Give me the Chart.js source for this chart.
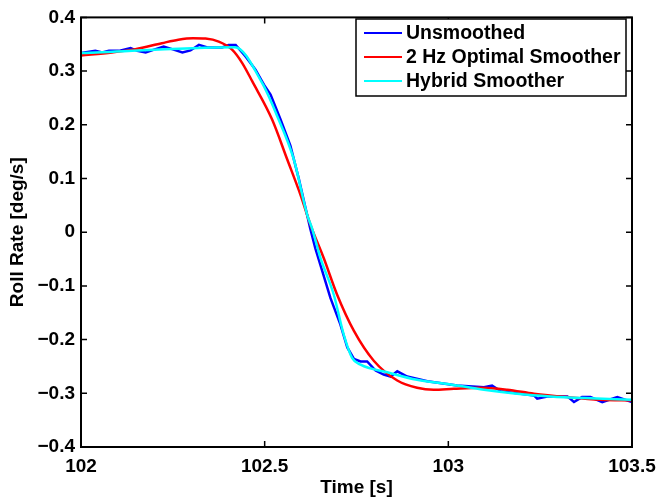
<!DOCTYPE html>
<html>
<head>
<meta charset="utf-8">
<title>Roll Rate</title>
<script src="https://cdn.jsdelivr.net/npm/chart.js"></script>
<style>
  html, body { margin: 0; padding: 0; background: #ffffff; }
  #wrap { width: 670px; height: 499px; }
</style>
</head>
<body>
<div id="wrap"><canvas id="rollChart" width="670" height="499"></canvas></div>
<script>
// series: time [s] and roll rate [deg/s]
const unsmoothedT = [102.000, 102.039, 102.058, 102.076, 102.103, 102.135, 102.153, 102.176, 102.203, 102.225,
  102.248, 102.276, 102.298, 102.321, 102.344, 102.384, 102.402, 102.421, 102.448, 102.475, 102.498, 102.516,
  102.543, 102.570, 102.593, 102.624, 102.638, 102.679, 102.706, 102.725, 102.743, 102.761, 102.779, 102.802,
  102.824, 102.843, 102.861, 102.888, 102.943, 103.024, 103.097, 103.119, 103.142, 103.233, 103.242, 103.269,
  103.324, 103.342, 103.364, 103.387, 103.419, 103.460, 103.500];
const unsmoothedV = [0.3335, 0.3377, 0.3348, 0.3377, 0.3377, 0.3427, 0.3377, 0.3348, 0.3409, 0.3459,
  0.3409, 0.3348, 0.3385, 0.3488, 0.3440, 0.3440, 0.3488, 0.3488, 0.3274, 0.3026, 0.2749, 0.2564,
  0.2103, 0.1611, 0.0994, 0.0070, -0.0300, -0.1223, -0.1715, -0.2147, -0.2361, -0.2406, -0.2406, -0.2577,
  -0.2651, -0.2688, -0.2590, -0.2688, -0.2775, -0.2855, -0.2886, -0.2855, -0.2960, -0.3039, -0.3100, -0.3058,
  -0.3058, -0.3163, -0.3071, -0.3071, -0.3163, -0.3071, -0.3163];

const optimalT = [102.000, 102.084, 102.148, 102.220, 102.265, 102.305, 102.339, 102.375, 102.412, 102.439,
  102.466, 102.520, 102.561, 102.598, 102.625, 102.661, 102.697, 102.743, 102.797, 102.861, 102.915,
  102.960, 103.015, 103.088, 103.160, 103.233, 103.324, 103.414, 103.500];
const optimalV = [0.3290, 0.3348, 0.3409, 0.3520, 0.3585, 0.3612, 0.3605, 0.3550, 0.3396, 0.3150,
  0.2812, 0.2103, 0.1363, 0.0687, 0.0133, -0.0484, -0.1160, -0.1838, -0.2393, -0.2762, -0.2897,
  -0.2934, -0.2915, -0.2897, -0.2934, -0.3008, -0.3071, -0.3119, -0.3132];

const hybridT = [102.000, 102.419, 102.493, 102.534, 102.579, 102.616, 102.629, 102.652, 102.688, 102.715,
  102.738, 102.761, 102.834, 102.915, 103.006, 103.097, 103.187, 103.278, 103.369, 103.500];
const hybridV = [0.3335, 0.3446, 0.2780, 0.2165, 0.1364, 0.0318, 0.0071, -0.0483, -0.1160, -0.1900,
  -0.2340, -0.2467, -0.2609, -0.2749, -0.2836, -0.2934, -0.3008, -0.3058, -0.3089, -0.3119];

const seriesNames = ['Unsmoothed', '2 Hz Optimal Smoother', 'Hybrid Smoother'];
const xTicks = [102, 102.5, 103, 103.5];
const xTickLabels = ['102', '102.5', '103', '103.5'];
const yTicks = [-0.4, -0.3, -0.2, -0.1, 0, 0.1, 0.2, 0.3, 0.4];
const yTickLabels = ['\u22120.4', '\u22120.3', '\u22120.2', '\u22120.1', '0', '0.1', '0.2', '0.3', '0.4'];

const FONT = '"Liberation Sans", Arial, Helvetica, sans-serif';

function pts(ts, vs) {
  return ts.map((t, i) => ({ x: t, y: vs[i] }));
}

// MATLAB style box with inward ticks on all four sides
const boxPlugin = {
  id: 'matlabBox',
  afterDatasetsDraw(chart) {
    const { ctx, chartArea: a, scales } = chart;
    ctx.save();
    ctx.strokeStyle = '#000';
    ctx.lineWidth = 2;
    ctx.strokeRect(a.left, a.top, a.right - a.left, a.bottom - a.top);
    ctx.lineWidth = 1.5;
    const len = 6;
    ctx.beginPath();
    xTicks.forEach(v => {
      const px = scales.x.getPixelForValue(v);
      ctx.moveTo(px, a.bottom); ctx.lineTo(px, a.bottom - len);
      ctx.moveTo(px, a.top); ctx.lineTo(px, a.top + len);
    });
    yTicks.forEach(v => {
      const py = scales.y.getPixelForValue(v);
      ctx.moveTo(a.left, py); ctx.lineTo(a.left + len, py);
      ctx.moveTo(a.right, py); ctx.lineTo(a.right - len, py);
    });
    ctx.stroke();
    ctx.restore();
  }
};

// legend box in the upper right, like the figure
const legendPlugin = {
  id: 'boxLegend',
  afterDraw(chart) {
    const { ctx } = chart;
    const left = 356, top = 19, w = 270, h = 77, rowH = 24;
    ctx.save();
    ctx.fillStyle = '#fff';
    ctx.fillRect(left, top, w, h);
    ctx.strokeStyle = '#000';
    ctx.lineWidth = 1.5;
    ctx.strokeRect(left, top, w, h);
    ctx.font = 'bold 19.5px ' + FONT;
    ctx.textBaseline = 'middle';
    chart.data.datasets.forEach((ds, i) => {
      const y = top + 14 + i * rowH;
      ctx.strokeStyle = ds.borderColor;
      ctx.lineWidth = 2;
      ctx.beginPath();
      ctx.moveTo(left + 8, y);
      ctx.lineTo(left + 46, y);
      ctx.stroke();
      ctx.fillStyle = '#000';
      ctx.fillText(ds.label, left + 50, y + 1);
    });
    ctx.restore();
  }
};

new Chart(document.getElementById('rollChart'), {
  type: 'scatter',
  data: {
    datasets: [
      { label: seriesNames[0], data: pts(unsmoothedT, unsmoothedV), borderColor: '#0000ff',
        borderWidth: 2.5, showLine: true, pointRadius: 0, order: 3 },
      { label: seriesNames[1], data: pts(optimalT, optimalV), borderColor: '#ff0000',
        borderWidth: 2.5, showLine: true, pointRadius: 0, cubicInterpolationMode: 'monotone', order: 2 },
      { label: seriesNames[2], data: pts(hybridT, hybridV), borderColor: '#00ffff',
        borderWidth: 2.5, showLine: true, pointRadius: 0, cubicInterpolationMode: 'monotone', order: 1 }
    ]
  },
  options: {
    responsive: false,
    animation: false,
    layout: { padding: { left: 0, top: 14, right: 38, bottom: 0 } },
    plugins: { legend: { display: false }, tooltip: { enabled: false } },
    scales: {
      x: {
        type: 'linear', min: 102, max: 103.5,
        afterBuildTicks: s => { s.ticks = xTicks.map(v => ({ value: v })); },
        afterFit: s => { s.height = 52; },
        grid: { display: false, drawTicks: false },
        border: { display: false },
        ticks: { color: '#000', padding: 8, maxRotation: 0, autoSkip: false,
          font: { family: FONT, size: 19, weight: 'bold' },
          callback: (v, i) => xTickLabels[i] },
        title: { display: true, text: 'Time [s]', color: '#000', padding: { top: 0, bottom: 0 },
          font: { family: FONT, size: 19, weight: 'bold' } }
      },
      y: {
        type: 'linear', min: -0.4, max: 0.4,
        afterBuildTicks: s => { s.ticks = yTicks.map(v => ({ value: v })); },
        afterFit: s => { s.width = 81; },
        grid: { display: false, drawTicks: false },
        border: { display: false },
        ticks: { color: '#000', padding: 6, autoSkip: false,
          font: { family: FONT, size: 19, weight: 'bold' },
          callback: (v, i) => yTickLabels[i] },
        title: { display: true, text: 'Roll Rate [deg/s]', color: '#000', padding: { top: 6, bottom: 0 },
          font: { family: FONT, size: 19, weight: 'bold' } }
      }
    }
  },
  plugins: [boxPlugin, legendPlugin]
});
</script>
</body>
</html>
